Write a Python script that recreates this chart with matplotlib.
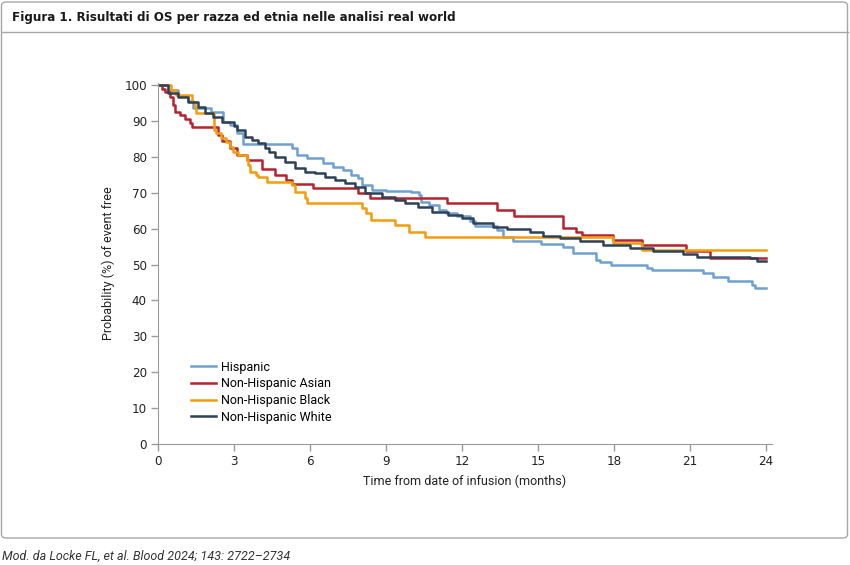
import numpy as np
import matplotlib.pyplot as plt
from matplotlib.patches import FancyBboxPatch
from matplotlib.lines import Line2D

# Kaplan-Meier curves (months, % event free)
hisp_t = [0, 0.4, 0.8, 1.2, 1.4, 2.1, 2.55, 2.85, 3.1, 3.35, 5.3, 5.5, 5.9, 6.5, 6.9, 7.3, 7.6, 7.9,
          8.05, 8.45, 9.0, 10.0, 10.3, 10.4, 10.7, 11.1, 11.35, 11.8, 12.3, 12.5, 13.4, 13.6, 14.0,
          15.1, 16.0, 16.4, 17.3, 17.45, 17.9, 19.3, 19.5, 21.5, 21.9, 22.5, 23.45, 23.55, 24]
hisp_s = [100, 98.5, 97, 95.5, 93.6, 92.5, 89.7, 88.9, 86.6, 83.7, 82.5, 80.5, 79.7, 78.3, 77.2, 76.3, 75, 74,
          72.1, 70.8, 70.5, 70.2, 69.4, 67.4, 66.6, 65.2, 64.3, 63.5, 62, 60.7, 59.6, 57.7, 56.5,
          55.7, 55, 53.2, 51.2, 50.7, 49.9, 49, 48.5, 47.6, 46.5, 45.4, 44.3, 43.5, 43.5]

asian_t = [0, 0.16, 0.28, 0.47, 0.59, 0.67, 0.87, 1.07, 1.26, 1.34, 2.37, 2.53, 2.84, 3.12, 3.5, 4.1, 4.6,
           5.06, 5.3, 6.12, 7.9, 8.37, 11.4, 13.4, 14.05, 16.0, 16.5, 16.75, 17.96, 19.1, 20.85, 21.8, 24]
asian_s = [100, 99, 98, 96.6, 94.4, 92.5, 91.6, 90.5, 89.4, 88.3, 86, 84.5, 82.5, 80.5, 79, 76.6, 75,
           73.5, 72.5, 71.3, 69.8, 68.5, 67.1, 65.2, 63.5, 60.2, 59, 58.2, 56.8, 55.4, 53.8, 51.8, 51.8]

black_t = [0, 0.5, 0.7, 1.35, 1.45, 1.5, 2.2, 2.3, 2.5, 2.7, 2.85, 2.95, 3.15, 3.5, 3.55, 3.65, 3.85, 3.95,
           4.3, 5.3, 5.4, 5.8, 5.9, 8.05, 8.2, 8.4, 9.35, 9.9, 10.55, 17.96, 19.1, 24]
black_s = [100, 98.6, 97.2, 95.3, 93.6, 92.2, 87.5, 86.6, 85.2, 84, 82.7, 81.3, 80.5, 79, 77.7, 75.8, 75, 74.4,
           73, 72.1, 70.2, 68.5, 67.1, 65.7, 64.3, 62.4, 61, 59, 57.7, 56, 54, 54]

white_t = [0, 0.39, 0.79, 1.18, 1.58, 1.86, 2.17, 2.53, 3.0, 3.12, 3.43, 3.71, 3.95, 4.22, 4.4, 4.62, 5.01,
           5.41, 5.8, 6.2, 6.59, 6.99, 7.38, 7.78, 8.17, 8.84, 9.36, 9.75, 10.26, 10.82, 11.45, 12.0,
           12.44, 13.23, 13.78, 14.69, 15.2, 15.87, 16.66, 17.57, 18.63, 19.54, 20.73, 21.28, 23.37, 23.65, 24]
white_s = [100, 97.8, 96.7, 95.3, 93.9, 92.2, 91, 89.7, 88.5, 87.5, 85.5, 84.7, 83.8, 82.5, 81.3, 80, 78.5,
           76.9, 75.8, 75.5, 74.4, 73.5, 72.7, 71.5, 70, 68.8, 68, 67.1, 66, 64.6, 63.8, 63,
           61.6, 60.4, 59.9, 59, 57.9, 57.4, 56.5, 55.4, 54.6, 53.8, 52.9, 52.1, 51.8, 51, 51]

labels = ['Hispanic', 'Non-Hispanic Asian', 'Non-Hispanic Black', 'Non-Hispanic White']
colors = ['#6fa0cf', '#b5232f', '#f39c0c', '#2d4157']
x_ticks = [0, 3, 6, 9, 12, 15, 18, 21, 24]
y_ticks = [0, 10, 20, 30, 40, 50, 60, 70, 80, 90, 100]

plt.rcParams['font.family'] = ['Roboto', 'DejaVu Sans']

fig = plt.figure(figsize=(8.5, 5.65), dpi=100)

# cornice e barra del titolo
box = FancyBboxPatch((1.5 / 850, 1 - 538 / 565), 846 / 850, 536 / 565,
                     boxstyle='round,pad=0,rounding_size=0.006', transform=fig.transFigure,
                     facecolor='none', edgecolor='#a6a6a6', linewidth=1.0, zorder=0)
fig.patches.append(box)
fig.add_artist(Line2D([1.5 / 850, 848 / 850], [1 - 32 / 565] * 2, transform=fig.transFigure,
                      color='#a6a6a6', linewidth=1.0))
fig.text(12 / 850, 1 - 17 / 565, 'Figura 1. Risultati di OS per razza ed etnia nelle analisi real world',
         fontsize=9.5, fontweight='bold', va='center', ha='left', color='#1a1a1a',
         family='DejaVu Sans', fontstretch='condensed')
fig.text(2 / 850, 1 - 556 / 565, 'Mod. da Locke FL, et al. Blood 2024; 143: 2722\u20132734',
         fontsize=9, style='italic', va='center', ha='left', color='#333333')

ax = fig.add_axes([158 / 850, 1 - 444 / 565, 614 / 850, 361 / 565])
ax.patch.set_alpha(0)
series = [(hisp_t, hisp_s), (asian_t, asian_s), (black_t, black_s), (white_t, white_s)]
for (t, s), lab, c in zip(series, labels, colors):
    ax.step(t, s, where='post', color=c, linewidth=1.8, label=lab)

ax.set_xlim(0, 24 * 614 / 608)
ax.set_ylim(0, 100 * 361 / 359)
ax.set_xticks(x_ticks)
ax.set_yticks(y_ticks)
for side in ['top', 'right']:
    ax.spines[side].set_visible(False)
for side in ['left', 'bottom']:
    ax.spines[side].set_color('#9a9a9a')
ax.tick_params(colors='#9a9a9a', labelcolor='#222222', length=5, width=1.0, labelsize=9, pad=3)
for lbl in ax.get_xticklabels() + ax.get_yticklabels():
    lbl.set_family('DejaVu Sans')
    lbl.set_stretch('condensed')
    lbl.set_fontsize(9.5)

ax.set_xlabel('Time from date of infusion (months)', fontsize=9, color='#222222', labelpad=5)
ax.set_ylabel('Probability (%) of event free', fontsize=9, color='#222222', labelpad=7)

ax.legend(loc='upper left', bbox_to_anchor=(0.045, 0.245), frameon=False, fontsize=9,
          handlelength=2.0, handletextpad=0.4, labelspacing=0.3, borderaxespad=0)

plt.savefig('out.png', dpi=100)
